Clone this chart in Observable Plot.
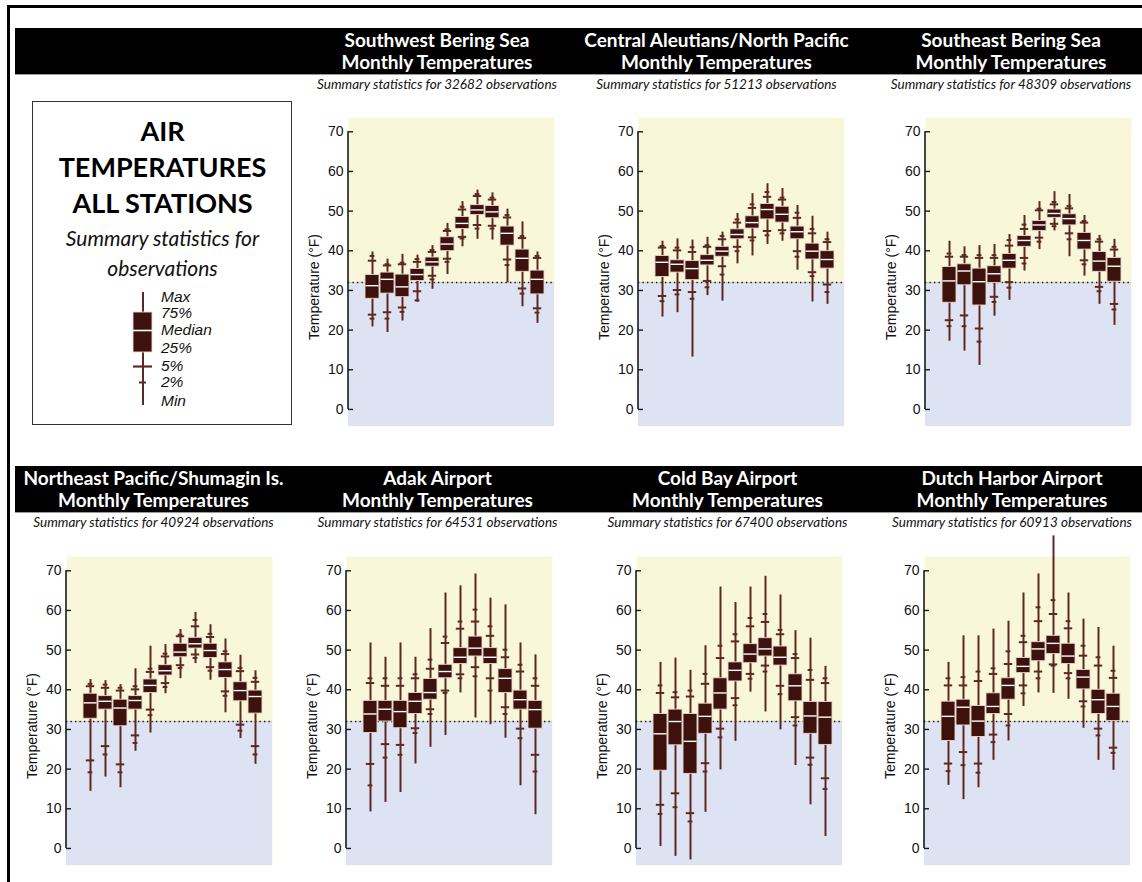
<!DOCTYPE html>
<html><head><meta charset="utf-8">
<script src="https://cdn.jsdelivr.net/npm/d3@7"></script>
<script src="https://cdn.jsdelivr.net/npm/@observablehq/plot@0.6"></script>
<style>
body{margin:0;background:#fff;}
#page{position:relative;width:1142px;height:882px;overflow:hidden;background:#fff;font-family:Lato,"Open Sans",sans-serif;}
.line{position:absolute;background:#000;}
.bar{position:absolute;background:#000;left:15px;width:1127px;height:46px;border-bottom:1px solid #999;}
.ttl{position:absolute;color:#fff;font-weight:700;font-size:19px;line-height:22px;text-align:center;width:340px;white-space:nowrap;}
.sub{position:absolute;font-style:italic;font-size:13.5px;line-height:16px;text-align:center;width:340px;color:#111;white-space:nowrap;}
#legendbox{position:absolute;left:32px;top:101px;width:258px;height:322px;border:1.5px solid #333;}
#legtitle{position:absolute;left:32px;top:113px;width:261px;text-align:center;font-weight:700;font-size:27px;line-height:36px;color:#000;}
#legsub{position:absolute;left:32px;top:223px;width:261px;text-align:center;font-style:italic;font-size:21px;line-height:30px;color:#111;}
</style></head>
<body><div id="page"></div>
<script>
// ---------- shared axis / scale values ----------
const months = [1,2,3,4,5,6,7,8,9,10,11,12];
const yTicks = [0,10,20,30,40,50,60,70];
const yDomain = [-4.3, 73.6];
const freezing = [32];

// ---------- Southwest Bering Sea ----------
const swbMin = [20.8,19.4,22.3,27.0,30.3,34.0,41.0,42.9,42.7,31.9,25.9,21.7];
const swbP2  = [22.9,22.9,24.6,27.5,32.8,37.2,43.1,45.6,45.6,36.4,29.2,24.4];
const swbP5  = [23.9,24.5,25.7,29.8,33.7,38.0,43.5,46.5,46.3,37.8,30.5,25.5];
const swbQ1  = [27.9,29.2,28.3,32.4,36.0,39.9,45.5,49.0,48.2,41.3,34.7,29.0];
const swbMed = [31.2,32.8,30.9,34.0,37.2,41.7,46.9,50.3,49.8,44.4,38.1,32.8];
const swbQ3  = [33.9,34.5,34.0,35.4,38.3,43.4,48.5,51.5,51.3,46.1,40.3,35.0];
const swbP95 = [37.5,36.3,36.6,37.2,39.7,45.0,50.4,53.8,52.9,48.4,43.2,38.2];
const swbP98 = [38.7,36.6,37.0,37.9,40.2,45.4,51.1,54.3,53.4,49.0,43.7,38.7];
const swbMax = [39.7,37.9,39.1,38.9,41.3,46.9,52.4,55.3,54.6,50.5,47.3,39.7];

// ---------- Central Aleutians/North Pacific ----------
const caMin = [23.3,24.4,13.2,28.7,27.3,36.7,38.7,41.6,42.4,35.1,27.1,26.5];
const caP2  = [27.3,29.0,27.9,30.8,34.0,39.9,42.6,43.9,44.4,38.5,33.6,29.6];
const caP5  = [28.6,30.1,29.6,32.4,36.1,41.0,43.4,45.0,45.2,39.9,34.6,31.5];
const caQ1  = [33.4,34.5,32.6,36.3,38.5,42.9,45.6,47.9,47.1,42.9,37.8,35.5];
const caMed = [37.1,36.6,35.5,37.6,39.9,44.1,47.1,50.4,49.2,44.8,39.9,37.8];
const caQ3  = [38.7,37.6,37.4,38.9,41.0,45.4,48.7,51.8,51.1,46.1,41.8,39.9];
const caP95 = [40.8,40.1,39.7,41.0,42.9,47.1,50.8,53.6,52.9,48.3,44.4,42.2];
const caP98 = [41.2,40.8,40.9,41.4,43.7,47.9,51.7,54.8,53.4,49.6,45.5,42.9];
const caMax = [42.4,43.0,42.7,43.4,44.7,49.4,54.4,56.9,55.7,51.4,48.7,44.7];

// ---------- Southeast Bering Sea ----------
const sebMin = [17.2,14.7,11.1,23.5,27.5,34.9,40.3,45.0,38.5,33.6,26.5,21.2];
const sebP2  = [21.0,21.0,17.1,27.1,30.7,36.8,42.3,46.2,42.9,36.6,29.8,25.2];
const sebP5  = [22.5,23.7,20.4,28.4,32.1,38.2,43.3,46.8,44.4,37.6,30.9,26.6];
const sebQ1  = [26.9,31.3,26.2,31.9,35.5,41.0,45.0,48.3,46.4,40.3,34.7,32.2];
const sebMed = [32.4,34.9,32.2,34.2,37.6,42.6,46.5,49.4,48.1,42.6,37.4,36.1];
const sebQ3  = [35.9,36.6,35.5,36.1,39.2,43.7,47.5,50.4,49.2,44.5,39.7,38.2];
const sebP95 = [38.5,38.5,38.2,38.2,41.3,45.5,50.2,51.7,50.7,47.1,42.3,40.3];
const sebP98 = [39.3,38.9,38.9,38.9,42.7,46.6,50.6,52.3,51.3,47.5,42.9,41.0];
const sebMax = [42.4,41.0,41.3,41.6,44.1,48.9,52.4,54.9,54.2,48.9,43.9,42.9];

// ---------- Northeast Pacific/Shumagin Is. ----------
const nepMin = [14.4,18.0,15.3,24.5,29.1,39.0,42.8,46.6,42.4,34.2,27.7,21.2];
const nepP2  = [19.2,23.7,19.2,26.6,33.6,40.7,45.5,48.0,44.8,38.5,29.7,23.7];
const nepP5  = [22.2,25.8,21.2,28.5,35.0,41.7,46.2,48.9,45.7,39.6,31.2,25.8];
const nepQ1  = [32.7,35.0,30.8,35.0,39.2,43.6,48.2,50.4,48.0,43.0,37.1,34.0];
const nepMed = [36.7,37.1,35.4,37.3,41.1,44.8,49.5,51.6,49.9,45.1,39.8,38.3];
const nepQ3  = [39.0,38.4,37.5,38.4,42.6,46.2,51.6,53.1,51.6,46.9,41.9,39.8];
const nepP95 = [40.9,40.5,39.8,40.1,44.5,48.4,53.5,56.0,53.3,49.0,44.7,42.0];
const nepP98 = [41.5,41.3,40.5,40.9,45.3,49.1,53.9,57.6,54.1,49.7,45.5,43.0];
const nepMax = [42.6,42.3,41.3,45.3,51.0,51.4,55.2,59.5,56.4,52.8,48.7,44.8];

// ---------- Adak Airport ----------
const adkMin = [9.2,11.6,14.1,21.3,25.5,28.5,39.2,32.9,31.2,27.8,15.8,8.5];
const adkP2  = [15.9,22.9,23.6,29.1,33.9,39.2,42.9,43.4,39.8,33.9,27.8,19.4];
const adkP5  = [21.3,26.3,26.1,30.3,35.1,39.8,43.9,45.7,42.9,35.6,30.2,23.6];
const adkQ1  = [29.1,32.0,30.3,33.9,37.5,42.9,46.5,48.4,46.5,39.2,35.0,30.2];
const adkMed = [33.9,35.1,34.5,37.1,39.3,44.6,48.2,50.5,48.2,42.9,37.5,35.0];
const adkQ3  = [37.2,37.2,37.2,39.2,42.7,46.3,50.5,53.4,50.5,45.2,39.8,37.2];
const adkP95 = [41.7,41.0,41.0,42.9,45.3,51.8,55.4,57.2,53.6,48.2,44.6,41.0];
const adkP98 = [42.9,42.9,42.9,43.9,47.6,53.4,57.2,60.2,56.0,50.1,46.3,42.9];
const adkMax = [51.8,48.2,51.8,48.2,55.4,64.4,66.2,69.2,63.1,61.4,51.8,48.8];

// ---------- Cold Bay Airport ----------
const cbMin = [0.5,-2.0,-2.9,9.1,19.8,27.0,39.4,34.4,29.9,20.9,11.0,3.0];
const cbP2  = [8.7,10.4,6.8,19.4,28.0,36.1,42.8,44.6,38.9,31.0,21.1,15.0];
const cbP5  = [11.0,13.9,8.9,21.5,30.2,37.9,44.0,46.1,41.0,33.1,22.9,17.7];
const cbQ1  = [19.6,26.0,18.8,28.9,35.0,42.1,46.7,48.4,46.1,37.1,28.9,26.1];
const cbMed = [28.9,32.0,27.0,33.3,39.2,44.9,49.0,50.3,48.2,41.0,33.4,33.1];
const cbQ3  = [33.9,35.0,33.9,36.5,42.9,46.9,51.5,53.0,50.9,43.9,36.9,36.9];
const cbP95 = [39.2,38.1,38.3,41.5,48.0,52.2,56.0,57.1,54.0,48.0,42.5,41.7];
const cbP98 = [41.1,39.4,39.8,44.0,51.1,54.0,58.1,59.1,55.1,49.0,45.0,42.9];
const cbMax = [46.9,48.0,44.9,51.1,65.9,62.0,65.9,68.6,63.9,54.9,53.0,45.9];

// ---------- Dutch Harbor Airport ----------
const dhMin = [15.9,12.3,15.3,22.2,27.1,35.8,39.2,39.1,37.6,30.3,22.2,19.7];
const dhP2  = [19.5,21.0,19.1,26.8,31.0,39.1,42.9,46.1,42.9,35.8,28.5,24.1];
const dhP5  = [21.4,24.3,21.4,28.7,33.9,41.1,44.6,46.4,44.2,37.1,30.2,25.4];
const dhQ1  = [27.1,31.0,28.1,33.9,37.5,44.2,47.2,49.0,46.5,40.1,33.9,32.1];
const dhMed = [33.3,35.6,32.1,35.8,41.1,45.9,50.3,51.7,48.5,43.2,37.5,35.8];
const dhQ3  = [37.0,37.5,35.9,39.1,42.9,48.0,52.0,53.6,51.6,45.0,40.0,39.0];
const dhP95 = [41.1,41.1,42.2,44.0,46.5,52.0,57.3,59.1,55.5,48.6,46.1,43.0];
const dhP98 = [42.9,43.2,44.6,45.4,49.7,53.6,60.8,62.6,57.3,51.1,48.2,44.8];
const dhMax = [46.9,53.6,53.6,55.3,57.3,64.4,69.2,78.8,64.4,57.8,55.7,51.0];

// ---------- panel texts ----------
const stationNames = ["Southwest Bering Sea","Central Aleutians/North Pacific","Southeast Bering Sea",
  "Northeast Pacific/Shumagin Is.","Adak Airport","Cold Bay Airport","Dutch Harbor Airport"];
const observationCounts = [32682,51213,48309,40924,64531,67400,60913];
const subtitleLine = "Monthly Temperatures";
const yLabel = "Temperature (°F)";

// ---------- legend sample ----------
const legendLabels = ["Max","75%","Median","25%","5%","2%","Min"];
const legendValues = [113,93,75,53,39,23,0];      // Max, 75%, Median, 25%, 5%, 2%, Min of the sample glyph
const legendLabelAt = [108,92,75,57,39,23,4];      // where each label sits on the same scale
const legendTitle = ["AIR","TEMPERATURES","ALL STATIONS"];
const legendSub = ["Summary statistics for","observations"];

// ---------- styles ----------
const C = {yellow:"#f9f7da", blue:"#dde3f2", box:"#3d110c", whisk:"#5e2822", edge:"#ead7cf"};

function rowsOf(min,p2,p5,q1,med,q3,p95,p98,max){
  return months.map((m,i)=>({month:m,min:min[i],p2:p2[i],p5:p5[i],q1:q1[i],med:med[i],q3:q3[i],p95:p95[i],p98:p98[i],max:max[i]}));
}
const panels = [
  rowsOf(swbMin,swbP2,swbP5,swbQ1,swbMed,swbQ3,swbP95,swbP98,swbMax),
  rowsOf(caMin,caP2,caP5,caQ1,caMed,caQ3,caP95,caP98,caMax),
  rowsOf(sebMin,sebP2,sebP5,sebQ1,sebMed,sebQ3,sebP95,sebP98,sebMax),
  rowsOf(nepMin,nepP2,nepP5,nepQ1,nepMed,nepQ3,nepP95,nepP98,nepMax),
  rowsOf(adkMin,adkP2,adkP5,adkQ1,adkMed,adkQ3,adkP95,adkP98,adkMax),
  rowsOf(cbMin,cbP2,cbP5,cbQ1,cbMed,cbQ3,cbP95,cbP98,cbMax),
  rowsOf(dhMin,dhP2,dhP5,dhQ1,dhMed,dhQ3,dhP95,dhP98,dhMax)
];

// layout (pixel positions of each panel's frame and its title centre)
const layout = [
  {fx:347.5, fy:117.4, tc:437,  row:0},
  {fx:637.5, fy:117.4, tc:716.5,row:0},
  {fx:924.5, fy:117.4, tc:1011, row:0},
  {fx:65.7,  fy:555.5, tc:153.5,row:1},
  {fx:346,   fy:555.5, tc:437.5,row:1},
  {fx:635.7, fy:555.5, tc:727.5,row:1},
  {fx:924.3, fy:555.5, tc:1012, row:1}
];
const ML=50, MT=30, MR=5, MB=5, FW=206, FH=309;

function axisLine(index, scales, values, dimensions){
  const x = dimensions.marginLeft;
  const y = scales.y;
  return d3.create("svg:line")
    .attr("x1", x).attr("x2", x)
    .attr("y1", y(yTicks[0])).attr("y2", y(yTicks[yTicks.length-1]))
    .attr("stroke", "#1a1a1a").attr("stroke-width", 1.6).node();
}

function panel(rows){
  return Plot.plot({
    width: ML+FW+MR, height: MT+FH+MB,
    marginLeft: ML, marginTop: MT, marginRight: MR, marginBottom: MB,
    style: {background:"transparent", overflow:"visible", fontFamily:"'Liberation Sans', Arial, sans-serif", fontSize:"14px", color:"#111"},
    x: {type:"band", domain: months, paddingInner:0.086, paddingOuter:0, insetLeft:11.75, insetRight:5.15, axis:null},
    y: {domain: yDomain, axis:null},
    marks: [
      Plot.frame({fill:C.yellow, stroke:null}),
      Plot.rect(freezing, {y1: () => yDomain[0], y2: d => d, fill:C.blue}),
      Plot.ruleY(freezing, {stroke:"#c8c8c8", strokeWidth:0.8}),
      Plot.ruleY(freezing, {stroke:"#111", strokeWidth:1.3, strokeDasharray:"1.3 3.2"}),
      Plot.ruleX(rows, {x:"month", y1:"min", y2:"max", stroke:C.whisk, strokeWidth:2}),
      Plot.tickY(rows, {x:"month", y:"p5", stroke:C.whisk, strokeWidth:2, inset:2.8}),
      Plot.tickY(rows, {x:"month", y:"p95", stroke:C.whisk, strokeWidth:2, inset:2.8}),
      Plot.tickY(rows, {x:"month", y:"p2", stroke:C.whisk, strokeWidth:2, inset:4.6}),
      Plot.tickY(rows, {x:"month", y:"p98", stroke:C.whisk, strokeWidth:2, inset:4.6}),
      Plot.barY(rows, {x:"month", y1:"q1", y2:"q3", fill:C.box, stroke:C.edge, strokeWidth:0.9}),
      Plot.tickY(rows, {x:"month", y:"med", stroke:"#fff", strokeWidth:1.4, inset:0.5}),
      Plot.axisY({ticks:yTicks, tickSize:-5, tickPadding:10, tickFormat:d=>d, stroke:"#1a1a1a", strokeWidth:1.4,
                  label:null, fontSize:14}),
      Plot.text([yLabel], {text:d=>d, frameAnchor:"left", textAnchor:"middle", lineAnchor:"middle", rotate:-90, dx:-34, dy:15, fontSize:14, fill:"#111"}),
      axisLine
    ]
  });
}

function legendPlot(){
  const s = {min:legendValues[6], p2:legendValues[5], p5:legendValues[4], q1:legendValues[3], med:legendValues[2], q3:legendValues[1], max:legendValues[0]};
  const one = [{k:"sample", ...s}];
  const lab = legendLabels.map((t,i)=>({k:"sample", t, v:legendLabelAt[i]}));
  return Plot.plot({
    width: 120, height: 133, marginLeft:20, marginRight:81, marginTop:10, marginBottom:10,
    style:{background:"transparent", overflow:"visible", fontFamily:"'Liberation Sans', Arial, sans-serif"},
    x:{type:"band", domain:["sample"], padding:0, axis:null},
    y:{domain:[legendValues[6], legendValues[0]], axis:null},
    marks:[
      Plot.ruleX(one, {x:"k", y1:"min", y2:"max", stroke:C.whisk, strokeWidth:2}),
      Plot.tickY(one, {x:"k", y:"p5", stroke:C.whisk, strokeWidth:2.2, inset:0}),
      Plot.tickY(one, {x:"k", y:"p2", stroke:C.whisk, strokeWidth:2, inset:6}),
      Plot.barY(one, {x:"k", y1:"q1", y2:"q3", fill:C.box, stroke:C.edge, strokeWidth:0.9}),
      Plot.tickY(one, {x:"k", y:"med", stroke:"#fff", strokeWidth:1.6}),
      Plot.text(lab, {x:"k", y:"v", text:"t", dx:18, textAnchor:"start", fontSize:15.5, fontStyle:"italic", fill:"#111"})
    ]
  });
}

// ---------- build page ----------
const page = document.getElementById("page");
function add(tag, cls, style, html){
  const e = document.createElement(tag); if (cls) e.className = cls;
  Object.assign(e.style, style); if (html != null) e.innerHTML = html; page.appendChild(e); return e;
}
add("div","line",{left:"7px",top:"5px",width:"1135px",height:"3px"});
add("div","line",{left:"7px",top:"5px",width:"3px",height:"877px"});
add("div","bar",{top:"28px"});
add("div","bar",{top:"466px"});

add("div",null,{},null).id="legendbox";
const lt = add("div",null,{},legendTitle.join("<br>")); lt.id="legtitle";
const ls = add("div",null,{},legendSub.join("<br>")); ls.id="legsub";
const lg = legendPlot();
lg.style.position="absolute"; lg.style.left = "113px"; lg.style.top = "282px";
page.appendChild(lg);

panels.forEach((rows,i)=>{
  const L = layout[i];
  const p = panel(rows);
  p.style.position="absolute"; p.style.left=(L.fx-ML)+"px"; p.style.top=(L.fy-MT)+"px";
  page.appendChild(p);
  const barTop = L.row===0 ? 28 : 466;
  add("div","ttl",{left:(L.tc-170)+"px", top:(barTop+1)+"px"}, stationNames[i]+"<br>"+subtitleLine);
  add("div","sub",{left:(L.tc-170)+"px", top:(barTop+48)+"px"}, "Summary statistics for "+observationCounts[i]+" observations");
});
</script>
</body></html>
